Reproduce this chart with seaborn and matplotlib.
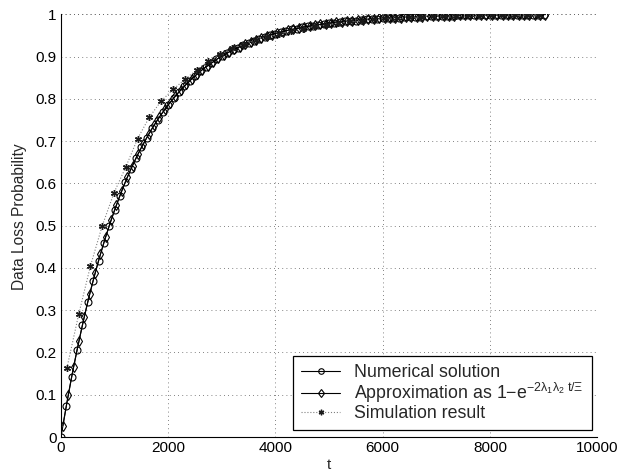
import numpy as np
import pandas as pd
import matplotlib
matplotlib.use("Agg")
import matplotlib.pyplot as plt
import seaborn as sns

# Time grids of the three series
t_numerical = np.arange(0, 9001, 100)
t_approx = np.arange(35, 9036, 100)
t_sim = np.arange(110, 8911, 220)

numerical = [
    0.000, 0.074, 0.143, 0.206, 0.265, 0.320, 0.370, 0.417, 0.460, 0.500,
    0.537, 0.571, 0.603, 0.633, 0.660, 0.685, 0.708, 0.730, 0.750, 0.768,
    0.786, 0.801, 0.816, 0.830, 0.842, 0.854, 0.865, 0.875, 0.884, 0.893,
    0.901, 0.908, 0.915, 0.921, 0.927, 0.932, 0.937, 0.942, 0.946, 0.950,
    0.954, 0.957, 0.961, 0.964, 0.966, 0.969, 0.971, 0.973, 0.975, 0.977,
    0.979, 0.980, 0.982, 0.983, 0.984, 0.985, 0.987, 0.988, 0.989, 0.989,
    0.990, 0.991, 0.992, 0.992, 0.993, 0.993, 0.994, 0.994, 0.995, 0.995,
    0.995, 0.996, 0.996, 0.996, 0.997, 0.997, 0.997, 0.997, 0.998, 0.998,
    0.998, 0.998, 0.998, 0.998, 0.998, 0.999, 0.999, 0.999, 0.999, 0.999,
    0.999,
]

approximation = [
    0.027, 0.099, 0.166, 0.227, 0.285, 0.338, 0.387, 0.432, 0.474, 0.513,
    0.549, 0.583, 0.614, 0.642, 0.669, 0.693, 0.716, 0.737, 0.757, 0.775,
    0.791, 0.807, 0.821, 0.834, 0.847, 0.858, 0.869, 0.878, 0.887, 0.896,
    0.903, 0.911, 0.917, 0.923, 0.929, 0.934, 0.939, 0.944, 0.948, 0.952,
    0.955, 0.959, 0.962, 0.964, 0.967, 0.970, 0.972, 0.974, 0.976, 0.978,
    0.979, 0.981, 0.982, 0.984, 0.985, 0.986, 0.987, 0.988, 0.989, 0.990,
    0.990, 0.991, 0.992, 0.992, 0.993, 0.993, 0.994, 0.994, 0.995, 0.995,
    0.996, 0.996, 0.996, 0.996, 0.997, 0.997, 0.997, 0.997, 0.998, 0.998,
    0.998, 0.998, 0.998, 0.998, 0.999, 0.999, 0.999, 0.999, 0.999, 0.999,
    0.999,
]

simulation = [
    0.163, 0.290, 0.405, 0.500, 0.578, 0.639, 0.706, 0.757, 0.795, 0.822,
    0.846, 0.868, 0.889, 0.905, 0.919, 0.928, 0.939, 0.947, 0.953, 0.961,
    0.966, 0.971, 0.975, 0.979, 0.983, 0.985, 0.988, 0.990, 0.992, 0.993,
    0.994, 0.995, 0.996, 0.996, 0.997, 0.997, 0.998, 0.998, 0.998, 0.999,
    0.999,
]

x_ticks = [0, 2000, 4000, 6000, 8000, 10000]
y_ticks = [0, 0.1, 0.2, 0.3, 0.4, 0.5, 0.6, 0.7, 0.8, 0.9, 1]
y_tick_labels = ["0", "0.1", "0.2", "0.3", "0.4", "0.5", "0.6", "0.7", "0.8", "0.9", "1"]

sns.set_style("white")
plt.rcParams["font.family"] = ["Liberation Sans", "DejaVu Sans"]
plt.rcParams["mathtext.fontset"] = "custom"
plt.rcParams["mathtext.rm"] = "Liberation Sans"
plt.rcParams["mathtext.it"] = "Liberation Sans"
plt.rcParams["mathtext.default"] = "regular"

fig = plt.figure(figsize=(6.38, 4.74), dpi=100)
ax = fig.add_axes([0.0956, 0.078, 0.8404, 0.892])

df_num = pd.DataFrame({"t": t_numerical, "p": numerical})
df_app = pd.DataFrame({"t": t_approx, "p": approximation})
df_sim = pd.DataFrame({"t": t_sim, "p": simulation})

asterisk = (6, 2, 0)

sns.lineplot(data=df_num, x="t", y="p", ax=ax, color="black", linewidth=0.8,
             marker="o", markersize=5, markerfacecolor="none",
             markeredgecolor="black", markeredgewidth=0.8,
             label="Numerical solution")
sns.lineplot(data=df_app, x="t", y="p", ax=ax, color="black", linewidth=0.8,
             marker="d", markersize=5.5, markerfacecolor="none",
             markeredgecolor="black", markeredgewidth=0.8,
             label=r"Approximation as 1$-$e$^{-2\lambda_1\lambda_2\ t/\Xi}$")
sns.lineplot(data=df_sim, x="t", y="p", ax=ax, color="0.5", linewidth=0.8,
             linestyle=":", marker=asterisk, markersize=5,
             markerfacecolor="0.1", markeredgecolor="0.1", markeredgewidth=1.0,
             label="Simulation result")

ax.set_xlim(0, 10000)
ax.set_ylim(0, 1)
ax.set_xticks(x_ticks)
ax.set_yticks(y_ticks)
ax.set_yticklabels(y_tick_labels)
ax.tick_params(axis="both", direction="in", length=4, labelsize=11, pad=3,
               color="black", labelcolor="black")
ax.grid(True, linestyle=(0, (1, 4)), color="0.35", linewidth=0.6)
for side in ("top", "right"):
    ax.spines[side].set_visible(False)
for side in ("left", "bottom"):
    ax.spines[side].set_color("black")
    ax.spines[side].set_linewidth(0.8)

ax.set_xlabel("t", fontsize=11, labelpad=2)
ax.set_ylabel("Data Loss Probability", fontsize=11.2)
ax.yaxis.set_label_coords(-0.063, 0.522)

# Dotted frame on top/right like the grid
ax.axhline(1, color="0.35", linestyle=(0, (1, 4)), linewidth=0.6, zorder=0)
ax.axvline(10000, color="0.35", linestyle=(0, (1, 4)), linewidth=0.6, zorder=0)

leg = ax.legend(loc="lower right", bbox_to_anchor=(0.990, 0.0165), fontsize=12.8,
                frameon=True, fancybox=False, edgecolor="black",
                handlelength=2.2, handletextpad=0.8, labelspacing=0.0,
                borderpad=0.45, borderaxespad=0, markerscale=0.8)
leg.get_frame().set_linewidth(0.9)
leg.get_frame().set_alpha(1)

fig.savefig("out.png", dpi=100)
